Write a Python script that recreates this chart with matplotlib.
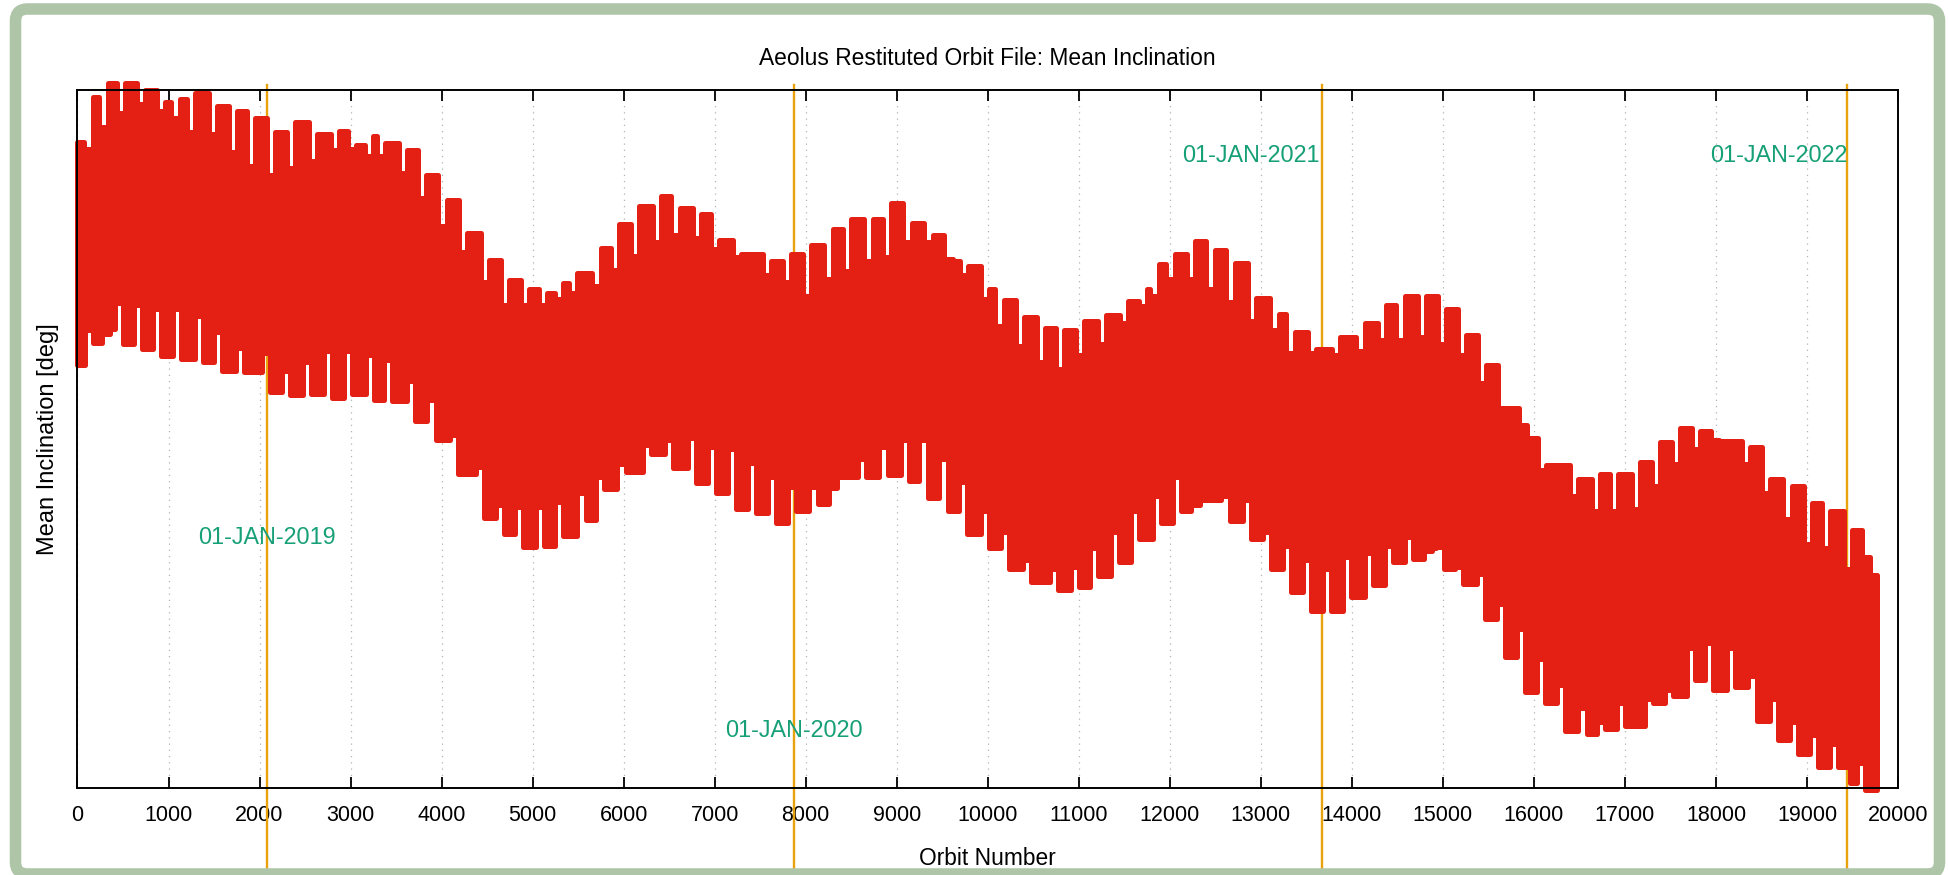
import matplotlib
matplotlib.use("Agg")
import matplotlib.pyplot as plt
from matplotlib.patches import FancyBboxPatch
from matplotlib.transforms import IdentityTransform

plt.rcParams['font.family'] = ['Liberation Sans', 'DejaVu Sans']

# ---------------- data ----------------
# Upper envelope of the mean-inclination band: plateau levels [deg], with the
# orbit numbers of the notches between plateaus and the notch depths [deg]
upper_levels = [96.6925, 96.6989, 96.7009, 96.7009, 96.6999, 96.6982, 96.6986, 96.6995,
                96.6976, 96.6969, 96.6959, 96.6939, 96.6953, 96.6936, 96.6941, 96.6920,
                96.6933, 96.6923, 96.6913, 96.6877, 96.6842, 96.6794, 96.6756, 96.6727,
                96.6714, 96.6709, 96.6723, 96.6738, 96.6773, 96.6808, 96.6833, 96.6848,
                96.6831, 96.6822, 96.6784, 96.6765, 96.6755, 96.6765, 96.6778, 96.6801,
                96.6814, 96.6815, 96.6837, 96.6809, 96.6791, 96.6755, 96.6748, 96.6714,
                96.6699, 96.6674, 96.6659, 96.6655, 96.6669, 96.6677, 96.6697, 96.6714,
                96.6750, 96.6765, 96.6783, 96.6770, 96.6751, 96.6702, 96.6679, 96.6653,
                96.6628, 96.6645, 96.6666, 96.6692, 96.6705, 96.6705, 96.6686, 96.6649,
                96.6606, 96.6544, 96.6501, 96.6462, 96.6442, 96.6450, 96.6450, 96.6466,
                96.6496, 96.6516, 96.6511, 96.6497, 96.6488, 96.6442, 96.6432, 96.6408,
                96.6396, 96.6369, 96.6305]
upper_notch_orbit = [121, 286, 480, 700, 920, 1077, 1250, 1488, 1708, 1910, 2129, 2349,
                     2587, 2826, 3020, 3200, 3338, 3577, 3789, 4009, 4236, 4474, 4694,
                     4914, 5116, 5288, 5446, 5702, 5904, 6124, 6362, 6570, 6802, 7004,
                     7242, 7572, 7792, 8012, 8250, 8451, 8690, 8891, 9118, 9349, 9569,
                     9741, 9973, 10130, 10350, 10585, 10790, 11010, 11256, 11501, 11706,
                     11831, 12007, 12234, 12447, 12667, 12905, 13150, 13326, 13564, 13828,
                     14096, 14334, 14535, 14774, 14993, 15213, 15433, 15653, 15880, 16093,
                     16441, 16680, 16881, 17120, 17340, 17560, 17779, 17988, 18329, 18549,
                     18787, 19007, 19209, 19447, 19649]
upper_notch = [96.6915, 96.6946, 96.6966, 96.6979, 96.6969, 96.6959, 96.6939, 96.6936,
               96.6910, 96.6890, 96.6877, 96.6887, 96.6897, 96.6913, 96.6915, 96.6905,
               96.6905, 96.6880, 96.6844, 96.6804, 96.6768, 96.6725, 96.6692, 96.6692,
               96.6692, 96.6700, 96.6709, 96.6718, 96.6741, 96.6761, 96.6781, 96.6791,
               96.6788, 96.6771, 96.6760, 96.6735, 96.6725, 96.6705, 96.6728, 96.6740,
               96.6755, 96.6760, 96.6782, 96.6782, 96.6758, 96.6735, 96.6700, 96.6662,
               96.6633, 96.6610, 96.6600, 96.6620, 96.6636, 96.6665, 96.6690, 96.6705,
               96.6729, 96.6729, 96.6715, 96.6696, 96.6669, 96.6656, 96.6623, 96.6623,
               96.6620, 96.6626, 96.6642, 96.6642, 96.6646, 96.6636, 96.6620, 96.6580,
               96.6544, 96.6520, 96.6455, 96.6418, 96.6396, 96.6396, 96.6399, 96.6432,
               96.6464, 96.6485, 96.6498, 96.6464, 96.6422, 96.6385, 96.6349, 96.6343,
               96.6313, 96.6330]

# Lower envelope of the band
lower_levels = [96.6606, 96.6637, 96.6657, 96.6636, 96.6628, 96.6618, 96.6614, 96.6610,
                96.6597, 96.6595, 96.6567, 96.6562, 96.6564, 96.6558, 96.6564, 96.6556,
                96.6554, 96.6525, 96.6498, 96.6450, 96.6387, 96.6363, 96.6345, 96.6347,
                96.6361, 96.6384, 96.6428, 96.6453, 96.6478, 96.6458, 96.6437, 96.6422,
                96.6400, 96.6393, 96.6380, 96.6397, 96.6407, 96.6445, 96.6445, 96.6448,
                96.6440, 96.6415, 96.6397, 96.6364, 96.6343, 96.6313, 96.6295, 96.6283,
                96.6288, 96.6303, 96.6323, 96.6356, 96.6379, 96.6396, 96.6412, 96.6382,
                96.6356, 96.6313, 96.6281, 96.6254, 96.6254, 96.6274, 96.6290, 96.6323,
                96.6328, 96.6343, 96.6314, 96.6292, 96.6242, 96.6188, 96.6138, 96.6121,
                96.6082, 96.6077, 96.6084, 96.6089, 96.6122, 96.6132, 96.6154, 96.6141,
                96.6145, 96.6096, 96.6069, 96.6048, 96.6030, 96.6030, 96.6007, 96.5997]
lower_notch_orbit = [125, 315, 454, 663, 872, 1092, 1334, 1543, 1789, 2074, 2287, 2521,
                     2756, 2976, 3211, 3412, 3668, 3888, 4134, 4420, 4639, 4852, 5079,
                     5292, 5537, 5739, 5977, 6259, 6500, 6747, 6967, 7187, 7407, 7627,
                     7847, 8085, 8297, 8616, 8855, 9093, 9294, 9514, 9727, 9973, 10193,
                     10431, 10732, 10962, 11171, 11402, 11622, 11860, 12080, 12282, 12612,
                     12850, 13070, 13289, 13509, 13729, 13949, 14187, 14407, 14627, 14836,
                     14968, 15177, 15415, 15635, 15855, 16075, 16295, 16533, 16735, 16955,
                     17266, 17486, 17724, 17926, 18164, 18402, 18641, 18861, 19080, 19300,
                     19429, 19594]
lower_notch = [96.6656, 96.6650, 96.6695, 96.6692, 96.6686, 96.6686, 96.6676, 96.6653,
               96.6630, 96.6623, 96.6597, 96.6610, 96.6626, 96.6626, 96.6620, 96.6613,
               96.6583, 96.6555, 96.6505, 96.6460, 96.6405, 96.6402, 96.6402, 96.6409,
               96.6422, 96.6445, 96.6464, 96.6491, 96.6498, 96.6501, 96.6488, 96.6485,
               96.6465, 96.6445, 96.6431, 96.6431, 96.6430, 96.6471, 96.6488, 96.6498,
               96.6498, 96.6471, 96.6438, 96.6396, 96.6366, 96.6326, 96.6313, 96.6316,
               96.6343, 96.6366, 96.6396, 96.6418, 96.6445, 96.6405, 96.6418, 96.6412,
               96.6366, 96.6346, 96.6326, 96.6313, 96.6330, 96.6336, 96.6346, 96.6359,
               96.6340, 96.6345, 96.6317, 96.6306, 96.6264, 96.6227, 96.6185, 96.6148,
               96.6115, 96.6095, 96.6122, 96.6128, 96.6141, 96.6201, 96.6207, 96.6201,
               96.6160, 96.6128, 96.6095, 96.6076, 96.6063, 96.6030, 96.6036]

first_orbit = 0
last_orbit = 19765

year_marks = [2082, 7868, 13675, 19445]
year_labels = ['01-JAN-2019', '01-JAN-2020', '01-JAN-2021', '01-JAN-2022']

x_ticks = list(range(0, 20001, 1000))

# ---------------- style ----------------
RED = '#e41f13'
ORANGE = '#e9a20c'
LABEL_GREEN = '#17a077'
FRAME_GREEN = '#afc5a8'
NOTCH_HALF = 45   # half-width of the gaps between teeth, in orbits


def envelope(levels, notch_x, notch_y, x0, x1):
    xs, ys = [x0], [levels[0]]
    for i, (nx, ny) in enumerate(zip(notch_x, notch_y)):
        xs += [nx - NOTCH_HALF, nx - NOTCH_HALF, nx + NOTCH_HALF, nx + NOTCH_HALF]
        ys += [levels[i], ny, ny, levels[i + 1]]
    xs.append(x1)
    ys.append(levels[-1])
    return xs, ys


W, H, DPI = 1949, 875, 100
fig = plt.figure(figsize=(W / DPI, H / DPI), dpi=DPI, facecolor='white')

L, R, B, T = 77.5, 1898, 788, 89.5
ax = fig.add_axes([L / W, (H - B) / H, (R - L) / W, (B - T) / H])

ux, uy = envelope(upper_levels, upper_notch_orbit, upper_notch, first_orbit, last_orbit)
lx, ly = envelope(lower_levels, lower_notch_orbit, lower_notch, first_orbit, last_orbit)
px = ux + lx[::-1]
py = uy + ly[::-1]
poly = ax.fill(px, py, facecolor=RED, edgecolor=RED, linewidth=3.6, zorder=2)[0]
poly.set_joinstyle('round')
poly.set_clip_on(False)

ax.set_xlim(0, 20000)
ax.set_ylim(96.60, 96.70)
ax.set_xticks(x_ticks)
ax.set_xticklabels([str(t) for t in x_ticks])
ax.set_yticks([])
ax.tick_params(axis='x', which='major', direction='in', top=True, bottom=True,
               length=8, width=1.3, labelsize=15.5, pad=12, colors='black')
for s in ax.spines.values():
    s.set_linewidth(1.4)
    s.set_color('black')
    s.set_zorder(3)
ax.grid(axis='x', color='#b4b4b4', linestyle=(0, (1, 4)), linewidth=0.9, zorder=0)
ax.set_axisbelow(True)

xt = ax.get_xaxis_transform()
for xm in year_marks:
    ax.plot([xm, xm], [-0.14, 1.006], color=ORANGE, linewidth=1.7,
            transform=xt, clip_on=False, zorder=1.5)

label_pos = [(year_marks[0], 0.359, 'center'), (year_marks[1], 0.082, 'center'),
             (year_marks[2] - 30, 0.906, 'right'), (year_marks[3], 0.906, 'right')]
for (xm, yf, ha), txt in zip(label_pos, year_labels):
    ax.text(xm, yf, txt, transform=xt, ha=ha, va='center', color=LABEL_GREEN,
            fontsize=16.8, zorder=4)

fig.text((L + R) / 2 / W, (H - 65) / H, 'Aeolus Restituted Orbit File: Mean Inclination',
         ha='center', va='baseline', fontsize=16.4)
fig.text((L + R) / 2 / W, (H - 865) / H, 'Orbit Number', ha='center', va='baseline',
         fontsize=16.4)
fig.text(48 / W, (H - 439) / H, 'Mean Inclination [deg]', rotation=90,
         ha='center', va='center', fontsize=17)

frame = FancyBboxPatch((15.5, 1), 1939.5 - 15.5, 866 - 1,
                       boxstyle='round,pad=0,rounding_size=12',
                       transform=IdentityTransform(), facecolor='none',
                       edgecolor=FRAME_GREEN, linewidth=8.3, zorder=10)
fig.patches.append(frame)

fig.savefig('out.png', dpi=DPI, facecolor='white')
